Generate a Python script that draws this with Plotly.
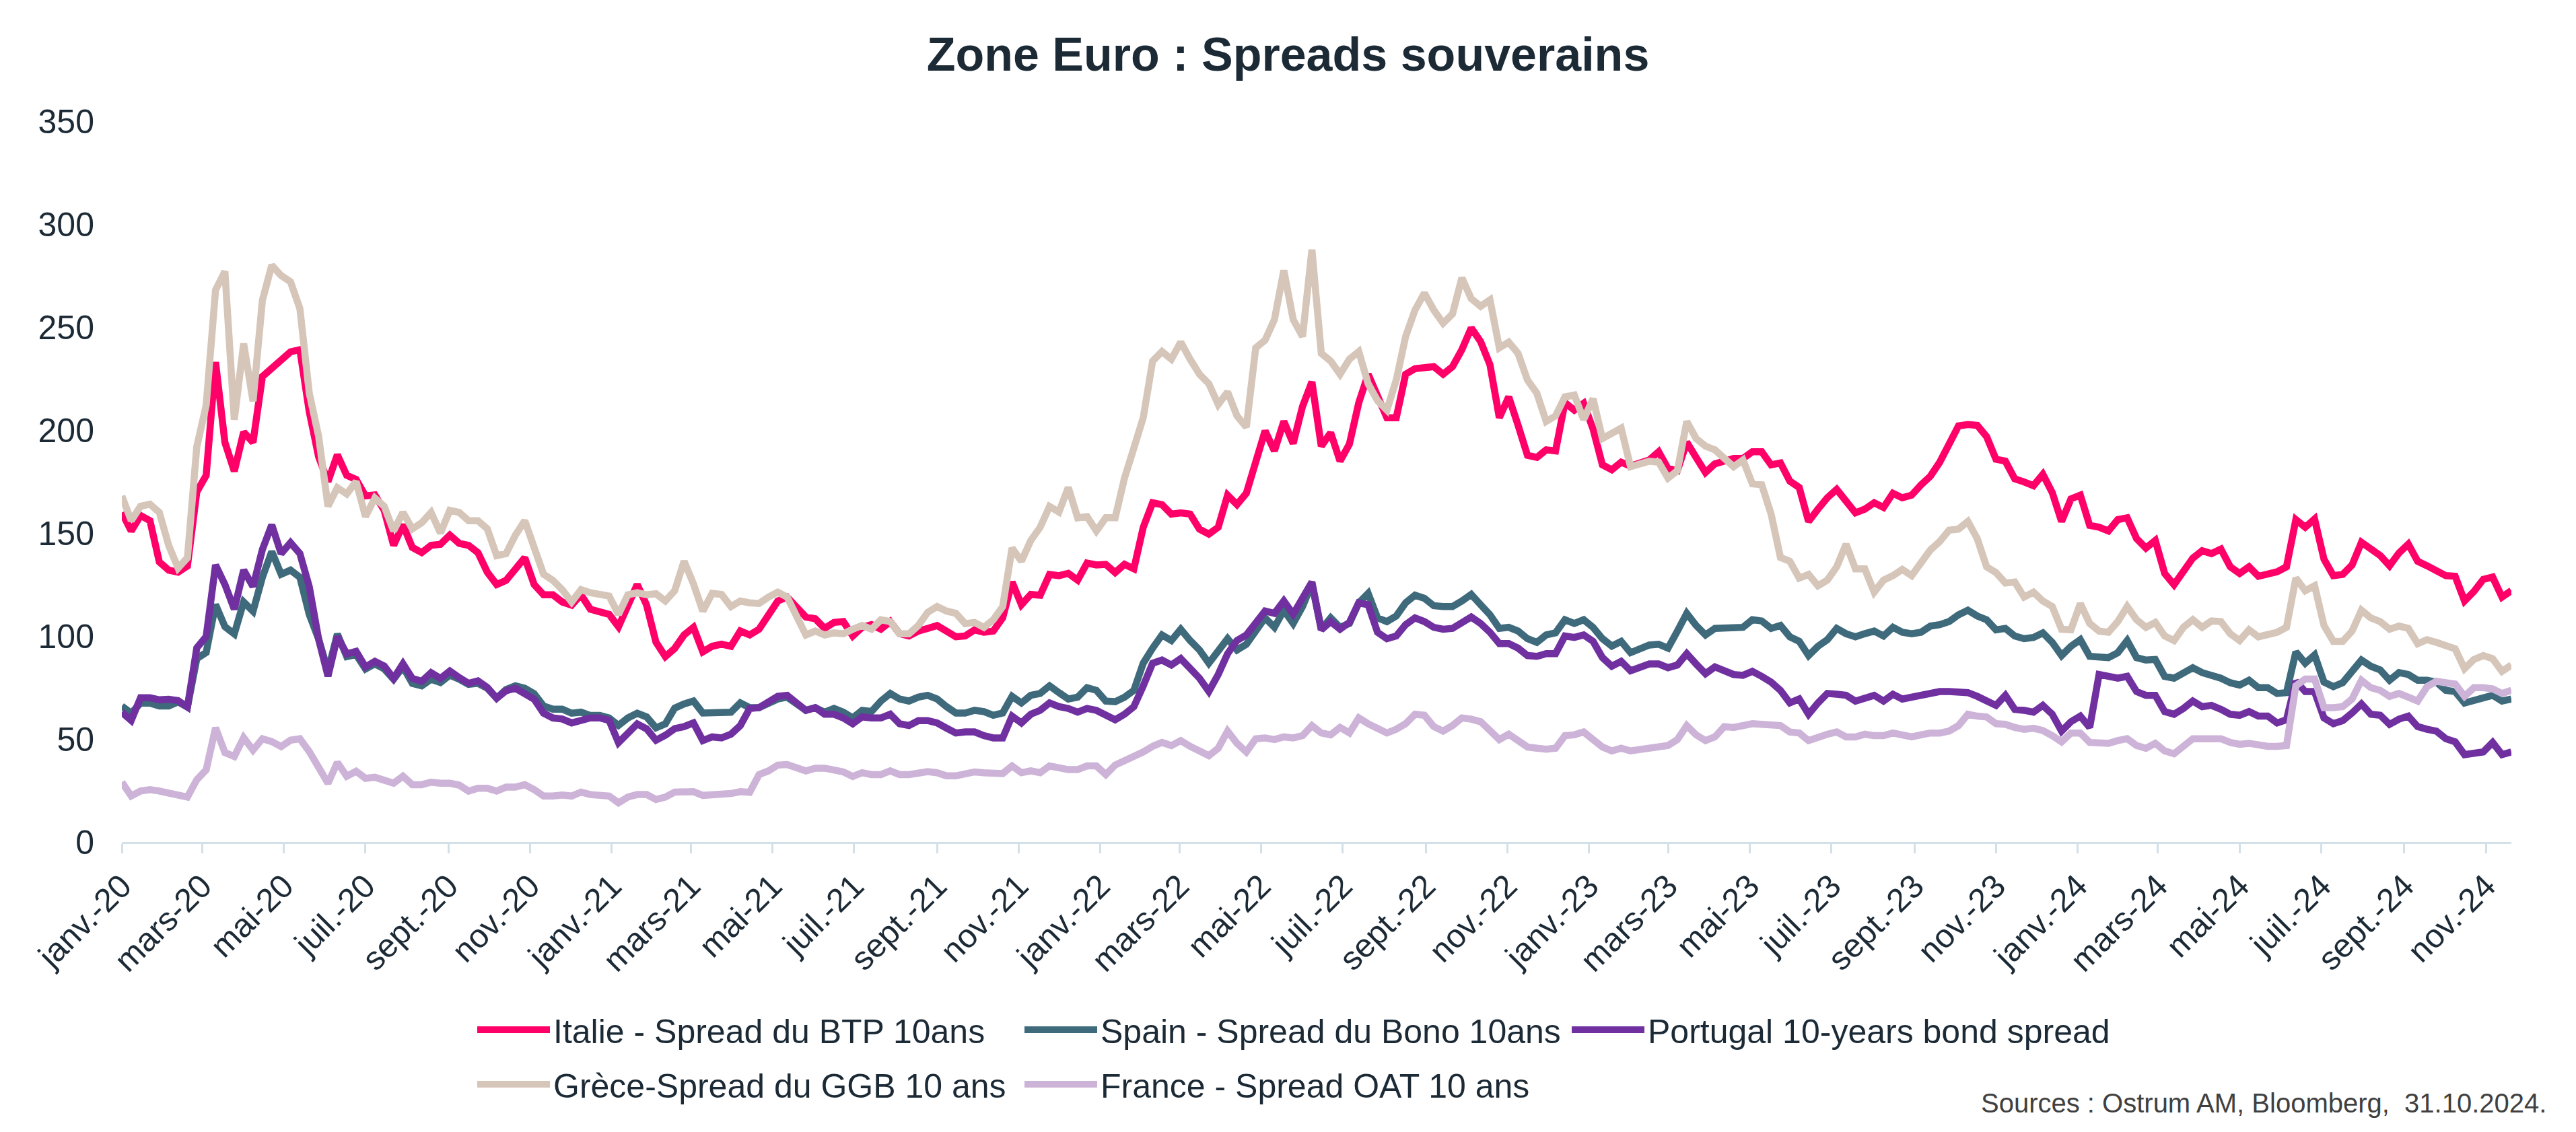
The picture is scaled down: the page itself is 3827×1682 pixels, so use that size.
import pandas as pd
import plotly.graph_objects as go

# ---------------- data (weekly observations, bp) ----------------
start_date = "2020-01-01"
n_points = 256
dates = pd.date_range(start_date, periods=n_points, freq="7D")

italie = [
    160, 151, 158.5, 156, 136, 132, 131, 134, 170, 178, 233, 194, 180, 199, 194, 226, 230, 234, 238, 239,
    209, 187, 175, 188, 178, 176, 168, 168.5, 161, 144, 154, 143, 140.5, 144, 144.5, 149, 145, 144, 140.5, 131,
    125, 127, 133, 138, 125, 120, 120, 116.5, 115, 120, 113, 112, 110.5, 104.5, 115, 125, 115, 97, 90, 94,
    100.5, 104.2, 92.3, 95, 96, 95, 102.4, 100.5, 103.3, 109.7, 117, 118.9, 114.3, 109.2, 108.4, 103.7, 106.6, 107, 100, 104.2,
    105.5, 103.3, 107, 101.1, 100, 102.4, 103.7, 105.1, 102.4, 99.6, 100, 103, 101.8, 102.4, 108.8, 126.2, 115.2, 120.2, 119.8,
    129.9, 129.3, 130.4, 127.1, 135.4, 134.5, 134.8, 130.8, 134.8, 132.6, 152.8, 164.7, 163.8, 159.2, 159.8, 159.2, 151.9, 149.5, 152.8, 168.4,
    163.8, 169.3, 183.1, 199.6, 189.9, 204.2, 193.5, 211.5, 223.4, 192.2, 198.7, 184.9, 193.2, 213.3, 227.1, 217, 206, 206, 227.1,
    229.8, 230.2, 230.8, 227.1, 230.8, 239, 249.6, 243, 231.7, 206, 216.1, 202.3, 187.7, 186.7, 190.4, 189.9, 213.3, 209.7, 213, 200.5,
    183.1, 180.7, 184.4, 182.5, 184, 185.5, 189.5, 181.3, 180.3, 194.1, 186.7, 179.4, 183.6, 184.9, 186.2, 186.2, 189.5, 189.5,
    183.1, 184, 175.2, 172.1, 155.6, 161.6, 167.1, 171.2, 165.3, 159.8, 161.6, 164.7, 162.4, 169.3, 167.1, 168.4, 173.4, 177.6, 184.4, 193.2,
    202, 202.7, 202.3, 196.8, 185.8, 184.9, 176.3, 174.8, 173, 178.5, 169.7, 155.6, 166.6, 168.4, 153.7, 152.8, 151, 156.5, 157.4,
    147.3, 142.7, 146.4, 130.4, 124.9, 131.7, 137.8, 141.4, 140, 142.2, 133.6, 130.4, 133.6, 129, 129.9, 131.2, 133.6, 156.5, 152.8, 156.8,
    137.3, 129.3, 129.9, 134.5, 145.5, 141.8, 139.1, 134.1, 140.3, 144.6, 136.3, 134.1, 131.2, 129.3, 129, 117, 121.6, 127.5, 128.6, 118.9, 122,
]

espagne = [
    66, 62.5, 67.4, 67.4, 66, 66, 68, 65.5, 89, 92, 115.3, 104.5, 101, 116.5, 112, 128.5, 141, 130, 132, 128.5,
    110.5, 98.5, 83, 101, 90, 91, 84, 86.5, 84, 79, 85, 77, 75.8, 79, 77.4, 81, 79, 76.5, 77, 74.6,
    69.8, 74, 75.8, 74.6, 72, 66, 64.5, 64.5, 62.5, 63, 61.4, 61.4, 60.2, 56.6, 60.2, 62.5, 60.7, 55.4, 57.3, 65,
    67, 68.4, 62.6, 63, 62.6, 63, 67.5, 65.2, 65.2, 67.5, 69.4, 70.3, 67, 63.9, 65.2, 63, 64.8, 63, 60.2, 63.9,
    63.3, 68.4, 72.1, 69.4, 68.4, 70.3, 71.2, 69.4, 65.7, 62.6, 62.6, 63.9, 63.3, 61.5, 62.6, 70.7, 67.5, 71.2, 72.1,
    75.8, 72.5, 69.4, 70.3, 74.9, 73.6, 68.4, 68.1, 70.3, 73.6, 86.8, 94.1, 100.5, 97.8, 103.3, 97.8, 93.2, 86.8, 92.3, 98.7,
    93.2, 96, 102.4, 108.8, 104.2, 112.5, 106.1, 114.3, 125.3, 103.3, 108.8, 104.2, 106.1, 116.1, 120.7, 108.8, 107, 109.7, 116.1,
    119.8, 118.3, 114.7, 114.3, 114.3, 117, 120.2, 115.2, 110.3, 103.7, 104.2, 102.4, 98.7, 96.9, 100.5, 101.5, 107.9, 106.1, 107.9, 104.2,
    98.7, 95.1, 97.4, 91.9, 94.1, 95.6, 96, 94.1, 102.4, 111, 105.1, 100.5, 103.7, 103.7, 103.7, 104.2, 107.9, 107.3,
    103.7, 105.1, 99.6, 97.4, 90.5, 95, 98.2, 103.7, 101.1, 99.6, 101.1, 102.4, 100, 104.2, 101.8, 101.1, 101.8, 104.8, 105.5, 107,
    110.3, 112.5, 109.7, 107.9, 103, 103.7, 100, 98.7, 99.3, 101.5, 96.9, 90.5, 95, 98.2, 90.1, 89.5, 89.5, 91.9, 97.8,
    89.5, 88.3, 88.6, 80.4, 79.5, 82.2, 84.6, 82.2, 80.9, 79.5, 77.3, 76.2, 78.5, 74.9, 74.9, 72.1, 72.5, 92.3, 86.8, 90.8,
    77.6, 75.4, 77.3, 82.2, 88.3, 85.3, 83.5, 78.5, 82.2, 81.3, 78.5, 78.5, 77.6, 73.6, 73, 67.5, 68.8, 69.9, 71.2, 68.4, 69.4,
]

portugal = [
    63, 59, 70, 70, 69, 69.3, 68.6, 65.5, 94.2, 99.7, 134.5, 125, 113, 132, 124, 142, 154, 140, 145.3, 140,
    124, 98.5, 80.5, 99.7, 91.3, 92.5, 85, 87.7, 85.4, 79.4, 86.5, 79.4, 78, 82.2, 79.4, 83, 79.8, 77, 78.2, 75,
    69.8, 73.4, 74.6, 72.2, 69.3, 62.5, 60.2, 59.7, 57.8, 59, 60.2, 60.2, 59, 48.2, 53, 57.3, 54.9, 49.4, 51.8, 55,
    56, 57.8, 49.2, 51, 50.5, 52.3, 56.5, 64.8, 65.2, 67.5, 70.7, 71.2, 67, 63.9, 65.2, 62, 62, 60.2, 57.4, 60.7,
    60.2, 60.2, 62, 57.4, 56.5, 58.9, 58.9, 57.8, 55.3, 52.9, 53.4, 53.4, 51.6, 50.5, 50.5, 61.1, 57.8, 62, 63.9,
    67.5, 65.7, 64.8, 63, 64.8, 63.9, 61.5, 59.3, 62, 65.7, 75.8, 86.8, 88.3, 85.9, 89, 84.1, 79.5, 73.1, 81.3, 91.4,
    97.8, 100.5, 107, 112.1, 111, 117, 110.6, 118.3, 126.2, 103, 107, 103.3, 106.6, 116.1, 115.2, 101.8, 98.7, 100, 105.5,
    108.8, 107, 104.2, 103.3, 103.7, 106.6, 109.2, 106.1, 101.8, 96.3, 96.3, 94.1, 90.5, 90.1, 91.4, 91.4, 100, 99.3, 100.5, 97.4,
    89.5, 85.3, 87.7, 83.1, 84.6, 86.4, 86.4, 84.6, 85.9, 91.4, 86.4, 81.7, 85, 83.5, 81.3, 80.9, 82.8, 80.4,
    77.6, 73.6, 67.5, 69.4, 62, 67.5, 72.1, 71.7, 71.2, 68.4, 69.9, 71.2, 68.4, 71.7, 69.4, 70.3, 71.2, 71.7, 73, 73,
    73, 72.5, 70.7, 68.4, 66.3, 71.2, 64.4, 63.9, 63, 66.3, 62, 53.8, 58.4, 61.1, 55.6, 81.3, 80.4, 79.5, 80.4,
    73, 71.2, 71.2, 63.3, 62, 64.8, 68.4, 65.7, 66.3, 64.4, 62, 61.5, 63.3, 61.1, 61.1, 57.8, 59.3, 78, 73, 73,
    60.2, 57.4, 58.9, 62.6, 67, 62, 61.5, 57.1, 59.6, 61.1, 56, 54.7, 53.8, 50.1, 48.6, 42.4, 42.8, 43.7, 48.3, 42.4, 43.7,
]

grece = [
    168, 156, 163, 164, 160, 144, 133, 138, 192, 212, 268, 277, 205, 242, 214, 263, 280, 275, 272, 259,
    218, 197, 163, 172, 169, 175, 158, 167, 163, 151, 160, 152, 155, 160, 150, 161, 160, 156, 156, 152,
    139, 140, 149, 156, 143, 130, 127, 122.5, 116.5, 122.5, 121, 120, 119.4, 110.5, 120, 121, 120, 120.5, 117, 122,
    136.3, 125.3, 112.1, 120.7, 120.2, 114.3, 117, 116.1, 115.8, 118.9, 121.3, 118.9, 109.7, 100.5, 102.4, 100.5, 101.5, 101.1, 103.3, 105.1,
    103.3, 107.9, 107, 101.1, 101.1, 105.1, 111.5, 114.3, 112.1, 111, 106, 106.6, 104.2, 107.9, 114.3, 142.7, 136.3, 146.4, 152.8,
    162.9, 160.2, 172.1, 157.4, 158, 151, 157.4, 157.4, 176.7, 191.3, 206, 233.5, 238.1, 234.4, 242.7, 234.4, 227.1, 222.5, 212.4, 218.5,
    206.9, 201.4, 239.9, 243.6, 253.7, 277.5, 253.7, 245.4, 287.6, 237.2, 233.5, 227.1, 234.4, 238.1, 222.5, 214.3, 209.7, 224.3, 245.4,
    258.3, 266.5, 258.3, 251.9, 256.4, 273.9, 263.8, 260.1, 263.2, 239.9, 242.7, 237.2, 224.3, 217.9, 204.2, 206.9, 216.1, 217, 205.1, 215.2,
    195.9, 198.7, 200.9, 182.2, 183.6, 184.9, 184.4, 176.7, 180.3, 204.2, 195.9, 192.2, 190.4, 185.8, 182.2, 185.5, 173.9, 173.4,
    159.2, 138.1, 136.3, 128.1, 129.9, 124.4, 127.1, 133.6, 144.6, 132.6, 132.6, 121.3, 127.1, 129.3, 132.3, 129.3, 135.4, 141.8, 145.9, 151.4,
    151.9, 155.6, 147.3, 133.6, 130.8, 125.7, 126.2, 118.9, 121.3, 117, 114.3, 103.3, 103, 115.8, 106.1, 102.4, 101.8, 107, 114.3,
    107.9, 104.2, 106.6, 100, 97.8, 104.2, 107.9, 104.2, 107.3, 107, 101.1, 97.8, 103, 99.6, 100.5, 101.8, 104.2, 128.1, 122, 124.4,
    105.1, 97.4, 97.4, 102.4, 112.5, 108.8, 107, 103.3, 104.8, 103.7, 96.3, 98.2, 96.9, 95.1, 93.8, 84.1, 88.6, 90.5, 89, 82.8, 85.9,
]

france = [
    29, 22.3, 24.7, 25.4, 24.7, 23.8, 23, 21.8, 30.2, 35, 55.4, 43.4, 41.5, 50.6, 44.6, 50.1, 48.7, 46.3, 49.4, 50.1,
    43.9, 35.7, 28.5, 38.6, 31.9, 34.3, 30.9, 31.4, 29.5, 28.5, 31.9, 27.8, 27.8, 29, 28.5, 28.5, 27.6, 24.7, 26.1, 26.1,
    24.7, 26.6, 26.6, 27.8, 25.4, 22.3, 22.3, 22.8, 22.3, 24.2, 23, 23, 22.3, 19, 21.8, 23, 23, 20.6, 21.8, 24.2,
    24.1, 24.4, 22.6, 23.2, 23.2, 23.5, 24.4, 24.1, 32.7, 34.5, 37.3, 37.6, 36.4, 34.5, 35.8, 35.8, 34.9, 34, 31.8, 33.6,
    32.7, 32.7, 34.5, 32.7, 32.7, 33.6, 34.1, 33.6, 32.1, 32.1, 33.2, 34, 33.6, 33.6, 33.2, 36.9, 33.6, 34.5, 33.6,
    36.9, 35.8, 35.1, 35.1, 36.9, 36.9, 32.7, 37.3, 39.5, 40.9, 43.7, 46.4, 48.3, 46.8, 49.2, 46.4, 44.6, 41.9, 45.5, 53.8,
    47.9, 43.7, 50.1, 50.5, 49.7, 51, 50.5, 51.6, 56.5, 52.9, 52, 55.6, 52.9, 60.2, 57.4, 54.7, 52.9, 54.7, 57.4,
    62, 61.5, 56, 53.8, 56.5, 60.2, 59.6, 58.4, 54.1, 49.7, 52.3, 49.2, 46.1, 45.5, 45, 45.5, 51.6, 52, 53.4, 49.7,
    46.1, 44.2, 45.5, 44.2, 45, 45, 46.1, 46.8, 49.7, 56.5, 52, 49.2, 51, 56, 55.6, 56.5, 57.4, 57.1,
    57.1, 56.5, 53.4, 52.9, 49.2, 51, 52.3, 53.4, 51, 51, 52.3, 51.6, 51.6, 52.9, 51.6, 51, 52, 52.9, 52.9, 53.8,
    56.5, 62, 61.1, 60.7, 57.4, 57.1, 55.6, 54.7, 55.2, 54.1, 51.6, 48.6, 52.9, 52.9, 48.3, 47.9, 47.9, 49.2, 50.1,
    46.8, 45.5, 47.9, 44.2, 42.8, 46.8, 50.1, 50.1, 49.7, 50.1, 48.3, 47.4, 47.9, 46.8, 46.4, 46.4, 46.8, 75.8, 79.1, 79.1,
    65.2, 65.2, 65.7, 69.4, 78.5, 74.9, 73.6, 70.7, 72.1, 70.3, 68.4, 75.4, 78, 77.3, 76.7, 70.7, 74.9, 74.9, 74.3, 72.1, 73.6,
]

series_names = [
    "Italie - Spread du BTP 10ans",
    "Spain - Spread du Bono 10ans",
    "Portugal 10-years bond spread",
    "Grèce-Spread du GGB 10 ans",
    "France - Spread OAT 10 ans",
]
series_values = [italie, espagne, portugal, grece, france]
series_colors = ["#FF0068", "#3E6A7C", "#7030A0", "#D6C5B9", "#CCB3D7"]
series_legend = ["legend", "legend", "legend", "legend2", "legend2"]

# x tick labels (every two months)
month_abbr = {1: "janv.", 3: "mars", 5: "mai", 7: "juil.", 9: "sept.", 11: "nov."}
tick_dates = pd.date_range("2020-01-01", "2024-11-01", freq="2MS")
tick_text = [f"{month_abbr[d.month]}-{d.strftime('%y')}" for d in tick_dates]

y_ticks = [0, 50, 100, 150, 200, 250, 300, 350]

title_text = "Zone Euro : Spreads souverains"
source_text = "Sources : Ostrum AM, Bloomberg,&nbsp; 31.10.2024."

# ---------------- figure ----------------
FONT = "Liberation Sans, Arial, Helvetica, sans-serif"
TXT = "#1C2A36"
AXIS = "#D3E0E8"

fig = go.Figure()
for name, vals, col, leg in zip(series_names, series_values, series_colors, series_legend):
    fig.add_trace(go.Scatter(
        x=dates, y=vals, name=name, mode="lines",
        line=dict(color=col, width=10.5),
        legend=leg,
    ))

W, H = 3827, 1682
ml, mr, mt, mb = 181, 96, 180, 431

fig.update_layout(
    template="none",
    width=W, height=H, autosize=False,
    margin=dict(l=ml, r=mr, t=mt, b=mb, pad=0),
    paper_bgcolor="white", plot_bgcolor="white",
    font=dict(family=FONT, color=TXT),
    title=dict(
        text=title_text, x=0.5, xanchor="center",
        y=1 - 80 / H, yanchor="middle",
        font=dict(size=70, family=FONT, color=TXT, weight="bold"),
    ),
    xaxis=dict(
        type="date",
        range=[dates[0], dates[-1]],
        tickvals=tick_dates, ticktext=tick_text,
        tickangle=-45,
        tickfont=dict(size=49, family=FONT, color=TXT),
        showgrid=False, zeroline=False,
        showline=True, linecolor=AXIS, linewidth=3,
        ticks="outside", ticklen=14, tickwidth=3, tickcolor=AXIS,
        automargin=False,
    ),
    yaxis=dict(
        range=[0, 350],
        tickvals=y_ticks,
        tickfont=dict(size=50, family=FONT, color=TXT),
        showgrid=False, zeroline=False, showline=False,
        ticks="", ticklabelstandoff=40,
        automargin=False,
    ),
    legend=dict(
        orientation="h", x=(704 - ml) / (W - ml - mr), xanchor="left",
        y=(H - mb - 1530) / (H - mt - mb), yanchor="middle",
        font=dict(size=50, family=FONT, color=TXT),
        itemwidth=108, entrywidth=690, entrywidthmode="pixels",
        bgcolor="rgba(0,0,0,0)", traceorder="normal",
    ),
    legend2=dict(
        orientation="h", x=(704 - ml) / (W - ml - mr), xanchor="left",
        y=(H - mb - 1611) / (H - mt - mb), yanchor="middle",
        font=dict(size=50, family=FONT, color=TXT),
        itemwidth=108, entrywidth=690, entrywidthmode="pixels",
        bgcolor="rgba(0,0,0,0)", traceorder="normal",
    ),
    showlegend=True,
)

fig.add_annotation(
    text=source_text, xref="paper", yref="paper",
    x=(3785 - ml) / (W - ml - mr), xanchor="right",
    y=(H - mb - 1639) / (H - mt - mb), yanchor="middle",
    showarrow=False, font=dict(size=40, family=FONT, color="#404040"),
)

fig.write_html("out.html")
